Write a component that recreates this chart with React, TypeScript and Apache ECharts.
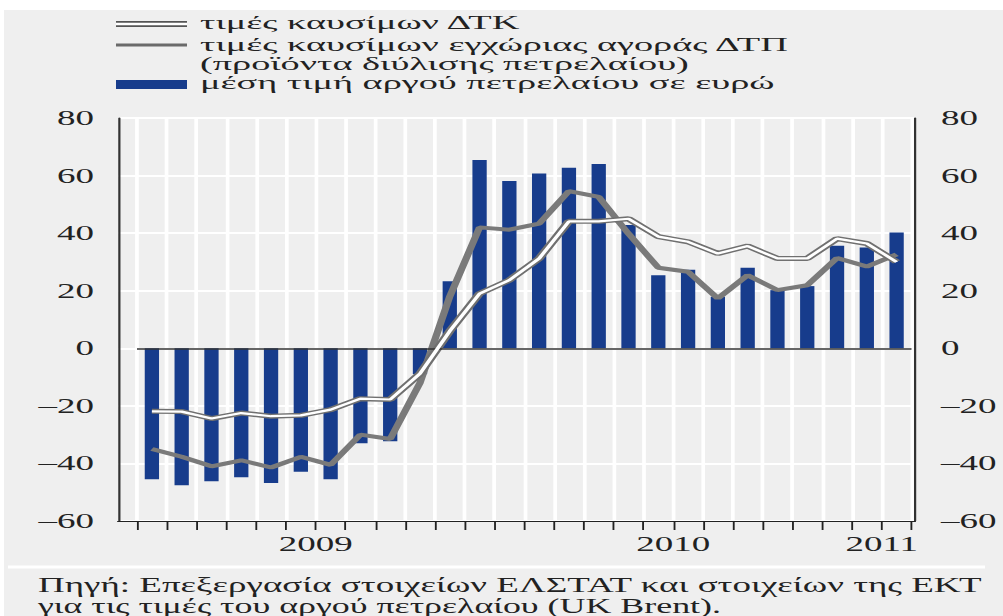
import React, { useEffect, useRef } from "react";
import * as echarts from "echarts";

// ---- data ----
const months = [
  "2009-01", "2009-02", "2009-03", "2009-04", "2009-05", "2009-06",
  "2009-07", "2009-08", "2009-09", "2009-10", "2009-11", "2009-12",
  "2010-01", "2010-02", "2010-03", "2010-04", "2010-05", "2010-06",
  "2010-07", "2010-08", "2010-09", "2010-10", "2010-11", "2010-12",
  "2011-01", "2011-02",
];
// labels placed on the month boundaries (27 boundaries for 26 months)
const yearTickLabels = [
  "", "", "", "", "", "", "2009", "", "", "", "", "", "",
  "", "", "", "", "", "2010", "", "", "", "", "", "",
  "2011", "",
];
const crudeOilEur = [
  -45.5, -47.6, -46.2, -44.8, -46.8, -42.9, -45.5, -33.0, -32.3, -9.0, 23.3, 65.4,
  58.1, 60.7, 62.7, 64.0, 42.8, 25.4, 27.3, 17.9, 28.0, 20.2, 21.6, 35.6,
  35.0, 40.2,
];
const fuelPpi = [
  -35.0, -37.7, -41.0, -38.9, -41.4, -37.7, -40.5, -30.0, -31.5, -12.0, 18.0, 42.0,
  41.2, 43.3, 54.6, 52.6, 39.8, 28.0, 26.6, 17.3, 25.4, 20.2, 21.9, 31.4,
  28.4, 32.6,
];
const fuelCpi = [
  -21.9, -22.0, -24.4, -22.5, -23.6, -23.3, -21.3, -17.5, -17.8, -8.8, 6.0, 19.0,
  23.7, 31.2, 44.1, 44.1, 45.0, 38.8, 37.0, 32.9, 35.5, 31.2, 31.2, 38.1,
  36.4, 30.0,
];
const legendLabels = [
  "τιμές καυσίμων ΔΤΚ",
  "τιμές καυσίμων εγχώριας αγοράς ΔΤΠ",
  "(προϊόντα διύλισης πετρελαίου)",
  "μέση τιμή αργού πετρελαίου σε ευρώ",
];
const sourceLines = [
  "Πηγή: Επεξεργασία στοιχείων ΕΛΣΤΑΤ και στοιχείων της ΕΚΤ",
  "για τις τιμές του αργού πετρελαίου (UK Brent).",
];
const yMin = -60;
const yMax = 80;
const yStep = 20;

// ---- layout ----
const PAGE_W = 1003;
const PAGE_H = 616;
const W = 542; // natural width, stretched horizontally to page width
const S = PAGE_W / W;
const px = (x: number) => x / S;

const FONT = "'Liberation Serif', 'DejaVu Serif', serif";
const BG = "#efefef";
const INK = "#222222";
const NAVY = "#173c8c";

const legendRowsY = [23, 45, 64, 83];

export default function App() {
  const ref = useRef<HTMLDivElement>(null);

  useEffect(() => {
    if (!ref.current) return;
    const chart = echarts.init(ref.current, null, { renderer: "svg" });
    const dash = (v: number) => String(v).replace("-", "–");

    const option: any = {
      animation: false,
      backgroundColor: "transparent",
      grid: [
        { left: px(118), right: W - px(915), top: 118, bottom: 95 },
        { left: px(137), right: W - px(911.5), top: 118, bottom: 95 },
      ],
      xAxis: [
        {
          gridIndex: 0,
          type: "value",
          min: 0,
          max: 1,
          axisLine: { show: true, onZero: false, lineStyle: { color: INK, width: 1.2 } },
          axisTick: { show: false },
          axisLabel: { show: false },
          splitLine: { show: false },
        },
        {
          gridIndex: 1,
          type: "category",
          data: months,
          boundaryGap: true,
          axisLine: { show: true, onZero: false, lineStyle: { color: INK, width: 1.2 } },
          axisTick: { show: true, interval: 0, length: 9, lineStyle: { color: INK, width: 1 } },
          axisLabel: { show: false },
          splitLine: { show: true, interval: 0, lineStyle: { color: "#ffffff", width: 2 } },
        },
        {
          gridIndex: 1,
          type: "category",
          position: "bottom",
          data: yearTickLabels,
          boundaryGap: false,
          axisLine: { show: false, onZero: false },
          axisTick: { show: false },
          splitLine: { show: false },
          axisLabel: {
            show: true,
            interval: 0,
            margin: 13,
            color: INK,
            fontFamily: FONT,
            fontSize: 20,
          },
        },
      ],
      yAxis: [
        {
          gridIndex: 0,
          type: "value",
          position: "left",
          min: yMin,
          max: yMax,
          interval: yStep,
          axisLine: { show: true, lineStyle: { color: "#333333", width: 1.2 } },
          axisTick: { show: false },
          axisLabel: { margin: 13, color: INK, fontFamily: FONT, fontSize: 20, formatter: dash },
          splitLine: { show: true, lineStyle: { color: "#ffffff", width: 2 } },
        },
        {
          gridIndex: 0,
          type: "value",
          position: "right",
          min: yMin,
          max: yMax,
          interval: yStep,
          axisLine: { show: true, lineStyle: { color: "#333333", width: 1.2 } },
          axisTick: { show: false },
          axisLabel: { margin: 14, color: INK, fontFamily: FONT, fontSize: 20, formatter: dash },
          splitLine: { show: false },
        },
        {
          gridIndex: 1,
          type: "value",
          min: yMin,
          max: yMax,
          interval: yStep,
          show: false,
        },
      ],
      series: [
        {
          name: legendLabels[3],
          type: "bar",
          xAxisIndex: 1,
          yAxisIndex: 2,
          data: crudeOilEur,
          barWidth: "48%",
          itemStyle: { color: NAVY },
          markLine: {
            silent: true,
            symbol: "none",
            label: { show: false },
            lineStyle: { color: "#333333", width: 1.5, type: "solid" },
            data: [{ yAxis: 0 }],
          },
          z: 2,
        },
        {
          name: legendLabels[1],
          type: "line",
          xAxisIndex: 1,
          yAxisIndex: 2,
          data: fuelPpi,
          symbol: "none",
          lineStyle: { color: "#7a7a7a", width: 4 },
          z: 3,
        },
        {
          name: legendLabels[0] + " (περίγραμμα)",
          type: "line",
          xAxisIndex: 1,
          yAxisIndex: 2,
          data: fuelCpi,
          symbol: "none",
          lineStyle: { color: "#707070", width: 5 },
          z: 4,
        },
        {
          name: legendLabels[0],
          type: "line",
          xAxisIndex: 1,
          yAxisIndex: 2,
          data: fuelCpi,
          symbol: "none",
          lineStyle: { color: "#ffffff", width: 2.2 },
          z: 5,
        },
      ],
      graphic: [
        // legend swatches
        { type: "line", shape: { x1: px(116), y1: legendRowsY[0] + 1, x2: px(187), y2: legendRowsY[0] + 1 }, style: { stroke: "#555555", lineWidth: 6 } },
        { type: "line", shape: { x1: px(116), y1: legendRowsY[0] + 1, x2: px(187), y2: legendRowsY[0] + 1 }, style: { stroke: "#ffffff", lineWidth: 2.4 } },
        { type: "line", shape: { x1: px(116), y1: legendRowsY[1], x2: px(187), y2: legendRowsY[1] }, style: { stroke: "#6a6a6a", lineWidth: 3 } },
        { type: "rect", shape: { x: px(116), y: legendRowsY[3] - 3, width: px(187) - px(116), height: 9 }, style: { fill: NAVY } },
        // legend texts
        ...legendLabels.map((t, i) => ({
          type: "text",
          x: px(200),
          y: legendRowsY[i],
          scaleX: 1.15,
          style: { text: t, fill: INK, font: `18px ${FONT}`, verticalAlign: "middle", align: "left" },
        })),
        // separator above source
        { type: "line", shape: { x1: px(8), y1: 567, x2: px(985), y2: 567 }, style: { stroke: "#ffffff", lineWidth: 3 } },
        ...sourceLines.map((t, i) => ({
          type: "text",
          x: px(38),
          y: [585, 606][i],
          scaleX: i === 1 ? 0.97 : 1,
          style: { text: t, fill: INK, font: `20px ${FONT}`, verticalAlign: "middle", align: "left" },
        })),
      ],
    };
    chart.setOption(option);
    return () => chart.dispose();
  }, []);

  return (
    <div style={{ position: "absolute", left: 0, top: 0, width: PAGE_W, height: PAGE_H, background: "#ffffff", overflow: "hidden" }}>
      <div style={{ position: "absolute", left: 4, top: 10, right: 0, bottom: 0, background: BG }} />
      <div
        ref={ref}
        style={{
          position: "absolute",
          left: 0,
          top: 0,
          width: W,
          height: PAGE_H,
          transform: `scaleX(${S})`,
          transformOrigin: "0 0",
        }}
      />
    </div>
  );
}
